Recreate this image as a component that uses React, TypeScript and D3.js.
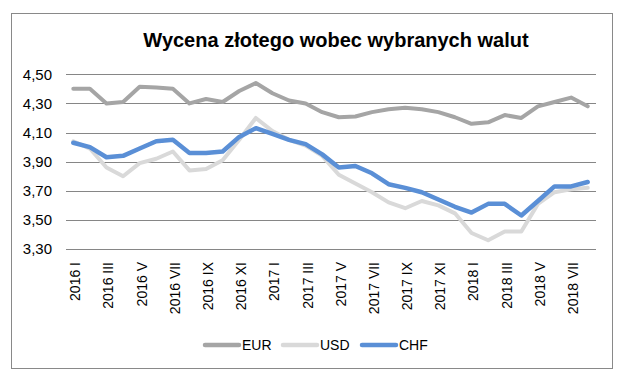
import { useEffect, useRef } from 'react';
import * as d3 from 'd3';

const months = [
  '2016 I', '2016 II', '2016 III', '2016 IV', '2016 V', '2016 VI', '2016 VII', '2016 VIII',
  '2016 IX', '2016 X', '2016 XI', '2016 XII',
  '2017 I', '2017 II', '2017 III', '2017 IV', '2017 V', '2017 VI', '2017 VII', '2017 VIII',
  '2017 IX', '2017 X', '2017 XI', '2017 XII',
  '2018 I', '2018 II', '2018 III', '2018 IV', '2018 V', '2018 VI', '2018 VII', '2018 VIII',
];

const eur = [
  4.40, 4.40, 4.30, 4.31, 4.415, 4.41, 4.40, 4.30, 4.33, 4.31, 4.385, 4.44,
  4.37, 4.32, 4.30, 4.24, 4.205, 4.21, 4.24, 4.26, 4.27, 4.26, 4.24, 4.205,
  4.16, 4.17, 4.22, 4.20, 4.28, 4.31, 4.34, 4.28,
];

const usd = [
  4.04, 3.99, 3.86, 3.80, 3.89, 3.92, 3.97, 3.84, 3.85, 3.91, 4.05, 4.20,
  4.11, 4.05, 4.01, 3.94, 3.81, 3.75, 3.69, 3.62, 3.58, 3.63, 3.60, 3.545,
  3.41, 3.36, 3.42, 3.42, 3.61, 3.69, 3.71, 3.72,
];

const chf = [
  4.03, 4.00, 3.93, 3.94, 3.99, 4.04, 4.05, 3.96, 3.96, 3.97, 4.07, 4.13,
  4.09, 4.05, 4.02, 3.95, 3.86, 3.87, 3.82, 3.745, 3.72, 3.69, 3.64, 3.59,
  3.55, 3.61, 3.61, 3.53, 3.63, 3.73, 3.73, 3.76,
];

const yTicks = [3.3, 3.5, 3.7, 3.9, 4.1, 4.3, 4.5];

const seriesNames = ['EUR', 'USD', 'CHF'];
const seriesColors = ['#a5a5a5', '#d9d9d9', '#5a8fd6'];

const App = () => {
  const ref = useRef<SVGSVGElement>(null!);

  useEffect(() => {
    const width = 623;
    const height = 386;
    const font = '"Liberation Sans", Arial, sans-serif';
    const svg = d3.select(ref.current).attr('width', width).attr('height', height);

    svg.append('rect')
      .attr('x', 11.5).attr('y', 13.5)
      .attr('width', 601).attr('height', 355)
      .attr('fill', '#fff').attr('stroke', '#898989');

    svg.append('text')
      .attr('x', 336).attr('y', 47)
      .attr('text-anchor', 'middle')
      .attr('font-family', font)
      .attr('font-weight', 'bold')
      .attr('font-size', 20)
      .attr('fill', '#000')
      .text('Wycena złotego wobec wybranych walut');

    const x = d3.scalePoint<string>().domain(months).range([65, 596]).padding(0.5);
    const y = d3.scaleLinear().domain([3.3, 4.5]).range([249, 74.3]);

    const grid = svg.append('g');
    grid.selectAll('line')
      .data(yTicks)
      .enter()
      .append('line')
      .attr('x1', 66).attr('x2', 596)
      .attr('y1', d => Math.round(y(d)) + 0.5)
      .attr('y2', d => Math.round(y(d)) + 0.5)
      .attr('stroke', '#868686');

    grid.selectAll('text')
      .data(yTicks)
      .enter()
      .append('text')
      .attr('x', 52).attr('y', d => y(d))
      .attr('dy', '0.35em')
      .attr('text-anchor', 'end')
      .attr('font-family', font)
      .attr('font-size', 15)
      .attr('fill', '#000')
      .text(d => d3.format('.2f')(d).replace('.', ','));

    svg.append('g')
      .selectAll('text')
      .data(months.filter((_, i) => i % 2 === 0))
      .enter()
      .append('text')
      .attr('transform', d => `translate(${(x(d) ?? 0) + 2},262) rotate(-90)`)
      .attr('dy', '0.35em')
      .attr('text-anchor', 'end')
      .attr('font-family', font)
      .attr('font-size', 14)
      .attr('fill', '#000')
      .text(d => d);

    const line = d3.line<number>()
      .x((_, i) => x(months[i]) ?? 0)
      .y(d => y(d));

    [eur, usd, chf].forEach((s, i) => {
      svg.append('path')
        .datum(s)
        .attr('d', line)
        .attr('fill', 'none')
        .attr('stroke', seriesColors[i])
        .attr('stroke-width', i === 2 ? 4.5 : 4)
        .attr('stroke-linejoin', 'round')
        .attr('stroke-linecap', 'round');
    });

    const legendX = [205, 283, 362];
    const legend = svg.append('g');
    seriesNames.forEach((name, i) => {
      legend.append('line')
        .attr('x1', legendX[i]).attr('x2', legendX[i] + 34)
        .attr('y1', 345).attr('y2', 345)
        .attr('stroke', seriesColors[i])
        .attr('stroke-width', 4.5)
        .attr('stroke-linecap', 'round');
      legend.append('text')
        .attr('x', legendX[i] + 37).attr('y', 345)
        .attr('dy', '0.35em')
        .attr('font-family', font)
        .attr('font-size', 14)
        .attr('fill', '#000')
        .text(name);
    });

    return () => {
      ref.current.innerHTML = '';
    };
  }, []);

  return <svg ref={ref} style={{ position: 'absolute', left: 0, top: 0 }}></svg>;
};

export default App;
